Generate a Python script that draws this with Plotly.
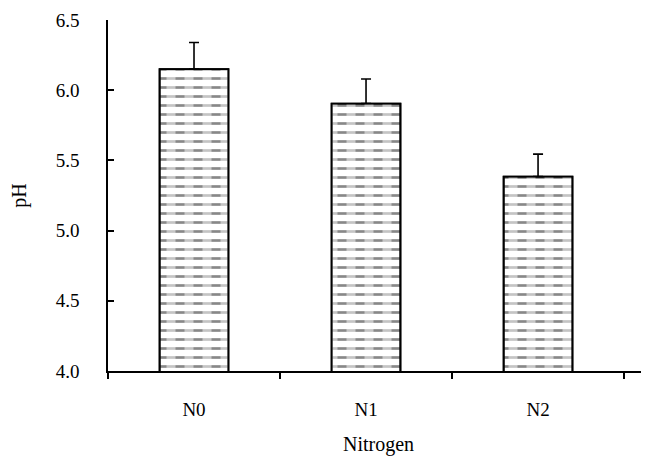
import plotly.graph_objects as go

categories = ["N0", "N1", "N2"]
ph_values = [6.15, 5.905, 5.385]
ph_errors = [0.19, 0.175, 0.16]
y_ticks = [4.0, 4.5, 5.0, 5.5, 6.0, 6.5]
y_tick_labels = ["4.0", "4.5", "5.0", "5.5", "6.0", "6.5"]

FONT = "Liberation Serif, Times New Roman, serif"
FS = 19
FT = 20

fig = go.Figure()
# base bar with horizontal line pattern
fig.add_trace(go.Bar(
    x=categories, y=ph_values, width=0.4,
    marker=dict(color="white",
                line=dict(color="black", width=1.8),
                pattern=dict(shape="-", fgcolor="#111111", bgcolor="white",
                             size=9, solidity=0.3)),
    error_y=dict(type="data", symmetric=False, array=ph_errors,
                 arrayminus=[0, 0, 0], visible=True,
                 color="black", thickness=1.6, width=5),
    showlegend=False, hoverinfo="skip",
))
# overlay with vertical white stripes to break lines into dashes
fig.add_trace(go.Bar(
    x=categories, y=ph_values, width=0.4,
    marker=dict(color="rgba(255,255,255,0)",
                line=dict(color="black", width=1.8),
                pattern=dict(shape="|", fgcolor="white", bgcolor="rgba(255,255,255,0)",
                             size=18, solidity=0.5, fillmode="overlay")),
    showlegend=False, hoverinfo="skip",
))

fig.update_layout(
    barmode="overlay",
    width=641, height=457,
    margin=dict(l=100, r=0, t=12, b=94),
    plot_bgcolor="white", paper_bgcolor="white",
    font=dict(family=FONT, size=FS, color="black"),
)
fig.update_xaxes(
    range=[-0.5, 2.645], automargin=False,
    showline=True, linecolor="black", linewidth=1.6,
    ticks="outside", tickson="boundaries", ticklen=6, tickwidth=1.6, tickcolor="black",
    showgrid=False, zeroline=False,
    ticklabelstandoff=20,
    title=dict(text="Nitrogen", font=dict(family=FONT, size=FT), standoff=18),
    tickfont=dict(family=FONT, size=FS),
)
fig.update_yaxes(
    range=[4.0, 6.5], automargin=False,
    tickvals=y_ticks, ticktext=y_tick_labels,
    showline=True, linecolor="black", linewidth=1.6,
    ticks="inside", ticklen=6, tickwidth=1.6, tickcolor="black",
    showgrid=False, zeroline=False,
    ticklabelstandoff=23,
    title=dict(text="pH", font=dict(family=FONT, size=FT), standoff=30),
    tickfont=dict(family=FONT, size=FS),
)

fig.write_html("out.html")
